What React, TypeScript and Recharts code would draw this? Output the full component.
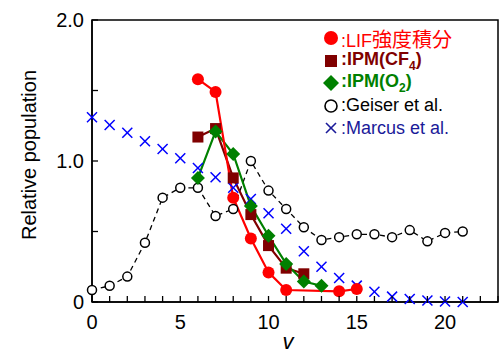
import React from "react";
import { ComposedChart, Legend, Line, ReferenceArea, XAxis, YAxis } from "recharts";

const vLevels = [0, 1, 2, 3, 4, 5, 6, 7, 8, 9, 10, 11, 12, 13, 14, 15, 16, 17, 18, 19, 20, 21];
const lif = [null, null, null, null, null, null, 1.58, 1.49, 0.74, 0.45, 0.21, 0.085, null, null, 0.076, 0.092, null, null, null, null, null, null];
const ipmCF4 = [null, null, null, null, null, null, 1.17, 1.23, 0.88, 0.62, 0.4, 0.24, 0.2, null, null, null, null, null, null, null, null, null];
const ipmO2 = [null, null, null, null, null, null, 0.88, 1.21, 1.05, 0.68, 0.47, 0.27, 0.145, 0.115, null, null, null, null, null, null, null, null];
const geiser = [0.085, 0.115, 0.18, 0.42, 0.74, 0.81, 0.81, 0.61, 0.66, 1.0, 0.79, 0.66, 0.53, 0.44, 0.46, 0.48, 0.48, 0.46, 0.51, 0.43, 0.49, 0.5];
const marcus = [1.31, 1.255, 1.2, 1.14, 1.085, 1.02, 0.95, 0.885, 0.81, 0.73, 0.63, 0.52, 0.36, 0.25, 0.17, 0.116, 0.073, 0.038, 0.021, 0.01, 0.003, 0];

const xTicks = [0, 1, 2, 3, 4, 5, 6, 7, 8, 9, 10, 11, 12, 13, 14, 15, 16, 17, 18, 19, 20, 21, 22, 23];
const yTicks = [0, 0.5, 1, 1.5, 2];
const yLabels: Record<string, string> = { "0": "0", "1": "1.0", "2": "2.0" };

const data = vLevels.map((v, i) => ({
  v,
  lif: lif[i],
  cf4: ipmCF4[i],
  o2: ipmO2[i],
  geiser: geiser[i],
  marcus: marcus[i],
}));

const FONT = "'Liberation Sans', Arial, 'Noto Sans CJK JP', sans-serif";

const ok = (p: any) => p.cx != null && p.cy != null && p.value != null && !Number.isNaN(p.cy);

const RedDot = (p: any) =>
  ok(p) ? <circle key={p.index} cx={p.cx} cy={p.cy} r={6} fill="#ff0000" /> : <g key={p.index} />;
const SquareDot = (p: any) =>
  ok(p) ? <rect key={p.index} x={p.cx - 5.5} y={p.cy - 5.5} width={11} height={11} fill="#800000" /> : <g key={p.index} />;
const DiamondDot = (p: any) =>
  ok(p) ? (
    <polygon key={p.index} points={`${p.cx},${p.cy - 7} ${p.cx + 7},${p.cy} ${p.cx},${p.cy + 7} ${p.cx - 7},${p.cy}`} fill="#008000" />
  ) : (
    <g key={p.index} />
  );
const OpenDot = (p: any) =>
  ok(p) ? <circle key={p.index} cx={p.cx} cy={p.cy} r={4.5} fill="#fff" stroke="#000" strokeWidth={1.5} /> : <g key={p.index} />;
const CrossDot = (p: any) =>
  ok(p) ? (
    <g key={p.index} stroke="#0000ff" strokeWidth={1.5}>
      <line x1={p.cx - 5} y1={p.cy - 5} x2={p.cx + 5} y2={p.cy + 5} />
      <line x1={p.cx - 5} y1={p.cy + 5} x2={p.cx + 5} y2={p.cy - 5} />
    </g>
  ) : (
    <g key={p.index} />
  );

const XTick = (props: any) => {
  const { x, y, payload } = props;
  const v = payload.value;
  return (
    <g>
      <line x1={x} x2={x} y1={y} y2={y - 6} stroke="#000" strokeWidth={1.3} />
      {v % 5 === 0 && v < 23 && (
        <text x={x} y={y + 27} textAnchor="middle" fontSize={20} fontFamily={FONT} fill="#000">
          {v}
        </text>
      )}
    </g>
  );
};

const YTick = (props: any) => {
  const { x, y, payload } = props;
  const label = yLabels[String(payload.value)];
  return (
    <g>
      <line x1={x} x2={x + 6} y1={y} y2={y} stroke="#000" strokeWidth={1.3} />
      {label && (
        <text x={x - 8} y={y + 7} textAnchor="end" fontSize={20} fontFamily={FONT} fill="#000">
          {label}
        </text>
      )}
    </g>
  );
};

// legend rows: cjk part gets a slightly larger size, sub is a subscript
const legendRows = [
  { key: "lif", color: "#ff0000", bold: false, main: ":LIF", cjk: "強度積分", sub: "", tail: "" },
  { key: "cf4", color: "#800000", bold: true, main: ":IPM(CF", cjk: "", sub: "4", tail: ")" },
  { key: "o2", color: "#008000", bold: true, main: ":IPM(O", cjk: "", sub: "2", tail: ")" },
  { key: "geiser", color: "#000000", bold: false, main: ":Geiser et al.", cjk: "", sub: "", tail: "" },
  { key: "marcus", color: "#1a1a99", bold: false, main: ":Marcus et al.", cjk: "", sub: "", tail: "" },
];

const LegendMarker = ({ k }: { k: string }) => {
  const c = 8;
  let m: React.ReactNode = null;
  if (k === "lif") m = <circle cx={c} cy={c} r={7} fill="#ff0000" />;
  if (k === "cf4") m = <rect x={c - 6} y={c - 6} width={12} height={12} fill="#800000" />;
  if (k === "o2") m = <polygon points={`${c},${c - 8} ${c + 8},${c} ${c},${c + 8} ${c - 8},${c}`} fill="#008000" />;
  if (k === "geiser") m = <circle cx={c} cy={c} r={6} fill="#fff" stroke="#000" strokeWidth={1.6} />;
  if (k === "marcus")
    m = (
      <g stroke="#1a1a99" strokeWidth={1.6}>
        <line x1={c - 5} y1={c - 5} x2={c + 5} y2={c + 5} />
        <line x1={c - 5} y1={c + 5} x2={c + 5} y2={c - 5} />
      </g>
    );
  return (
    <svg width={16} height={16} style={{ display: "block", marginRight: 2 }}>
      {m}
    </svg>
  );
};

const LegendBox = () => (
  <div style={{ fontFamily: FONT, fontSize: 18 }}>
    {legendRows.map((r) => (
      <div key={r.key} style={{ display: "flex", alignItems: "center", height: 22.5, color: r.color, fontWeight: r.bold ? "bold" : "normal", whiteSpace: "nowrap" }}>
        <LegendMarker k={r.key} />
        <span>
          {r.main}
          {r.cjk && <span style={{ fontSize: 20 }}>{r.cjk}</span>}
          {r.sub && <sub style={{ fontSize: 12 }}>{r.sub}</sub>}
          {r.tail}
        </span>
      </div>
    ))}
  </div>
);

export default function App() {
  return (
    <div style={{ position: "absolute", left: 0, top: 0, width: 503, height: 354, background: "#fff" }}>
      <ComposedChart width={503} height={354} data={data} margin={{ top: 20, right: 5, bottom: 0, left: 0 }}>
        <XAxis
          dataKey="v"
          type="number"
          domain={[0, 23]}
          ticks={xTicks}
          interval={0}
          height={52}
          tickSize={0}
          tickMargin={0}
          tickLine={false}
          axisLine={{ stroke: "#000", strokeWidth: 1.5 }}
          tick={<XTick />}
          label={{
            content: () => (
              <text x={288} y={349} textAnchor="middle" fontSize={22} fontStyle="italic" fontFamily={FONT} fill="#000">
                v
              </text>
            ),
          }}
        />
        <YAxis
          type="number"
          domain={[0, 2]}
          ticks={yTicks}
          interval={0}
          width={92}
          tickSize={0}
          tickMargin={0}
          tickLine={false}
          axisLine={{ stroke: "#000", strokeWidth: 1.5 }}
          tick={<YTick />}
          label={{
            content: () => (
              <text x={36} y={155} transform="rotate(-90 36 155)" textAnchor="middle" fontSize={20} fontFamily={FONT} fill="#000">
                Relative population
              </text>
            ),
          }}
        />
        <ReferenceArea x1={0} x2={23} y1={0} y2={2} fill="none" stroke="#000" strokeWidth={1.5} />
        <Legend
          layout="vertical"
          align="center"
          verticalAlign="middle"
          content={<LegendBox />}
          wrapperStyle={{ position: "absolute", left: 323, top: 27, width: "auto", height: "auto" }}
        />
        <Line dataKey="geiser" stroke="#000" strokeWidth={1.3} strokeDasharray="5 4" dot={OpenDot} connectNulls isAnimationActive={false} />
        <Line dataKey="marcus" stroke="none" dot={CrossDot} isAnimationActive={false} />
        <Line dataKey="cf4" stroke="#800000" strokeWidth={2.2} dot={SquareDot} connectNulls isAnimationActive={false} />
        <Line dataKey="o2" stroke="#008000" strokeWidth={2.2} dot={DiamondDot} connectNulls isAnimationActive={false} />
        <Line dataKey="lif" stroke="#ff0000" strokeWidth={2.2} dot={RedDot} connectNulls isAnimationActive={false} />
      </ComposedChart>
    </div>
  );
}
